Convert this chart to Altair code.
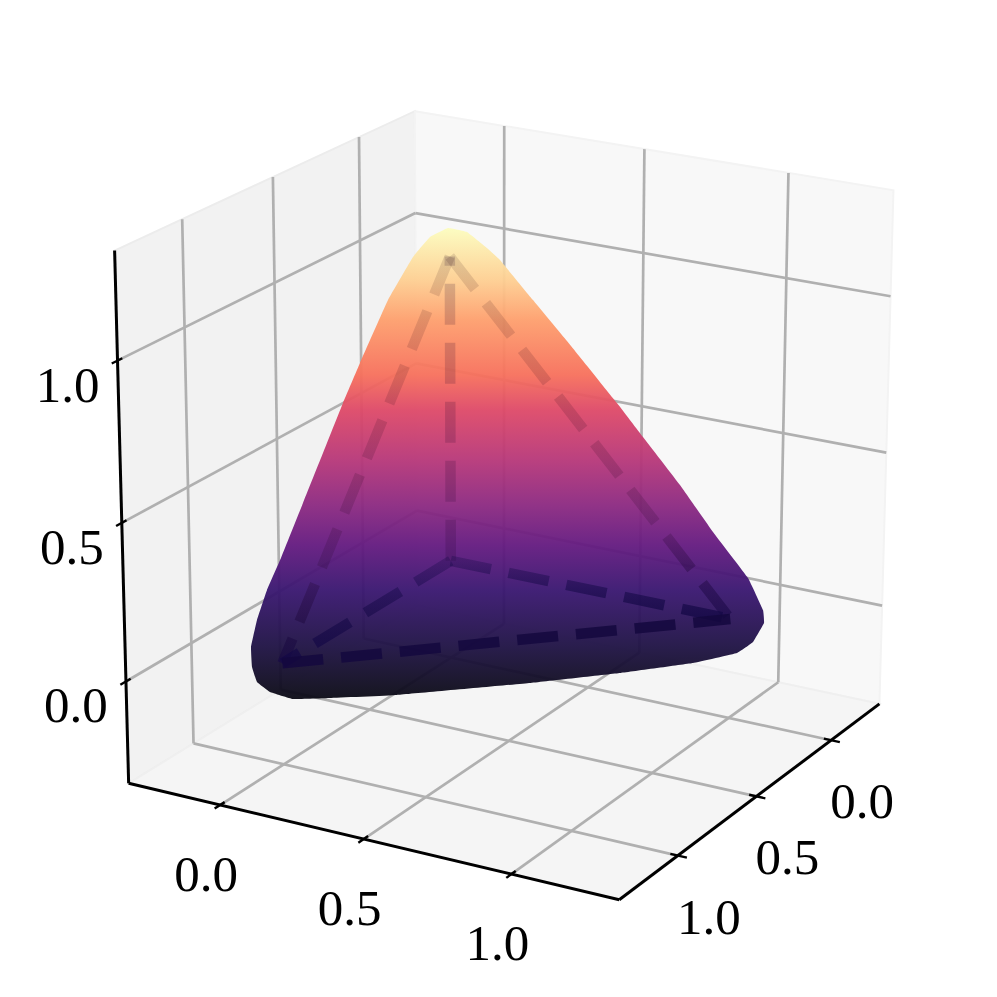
import numpy as np
import pandas as pd
import altair as alt

# limits of the 3D box
XL, XH = -0.326, 1.356
YL, YH = -0.338, 1.356
ZL, ZH = -0.327, 1.333
TICKS = [0.0, 0.5, 1.0]
TICK_LABELS = ["0.0", "0.5", "1.0"]

# camera that takes the 3D box to the picture plane
P = np.array([[0.260238, -0.182424, -0.0104189, 0.450784],
              [0.0418618, 0.0696163, -0.309616, 0.560799],
              [-0.0263944, -0.049572, -0.0209933, 1.0]])

# outline of the rounded tetrahedron as seen in the picture plane
surf_u = [448,467,487,500,533,567,617,643,680,713,748,763,764,753,737,693,620,530,397,330,293,270,257,252,251,257,267,281,303,323,343,360,388,413,430]
surf_v = [228,232,248,260,300,341,403,437,485,532,578,610,623,642,653,663,673,683,695,698,699,692,682,667,647,620,590,558,503,453,403,363,300,257,237]
# colour of the surface by height in the picture plane (magma)
stop_v = [228,280,320,375,410,460,505,545,590,645,699]
stop_c = ["#fcfdbf","#fecf92","#fe9f6d","#f7705c","#de4968","#b73779","#8c2981","#641a80","#391670","#1f1245","#0a0a14"]

def proj(X, Y, Z):
    h = P @ np.array([X, Y, Z, 1.0])
    return 1000*h[0]/h[2], 1000*h[1]/h[2]

W = 975
xs = alt.X("u:Q", scale=alt.Scale(domain=[8, 8+W], nice=False, zero=False), axis=None)
ys = alt.Y("v:Q", scale=alt.Scale(domain=[8+W, 8], nice=False, zero=False), axis=None)
order = alt.Order("i:Q")

def path_df(pts3):
    rows = []
    for i, p in enumerate(pts3):
        u, v = proj(*p)
        rows.append(dict(u=u, v=v, i=i))
    return pd.DataFrame(rows)

def poly(pts3, fill, stroke):
    return alt.Chart(path_df(pts3)).mark_line(fill=fill, stroke=stroke, strokeWidth=2, interpolate="linear-closed").encode(x=xs, y=ys, order=order)

def segs(seglist, color, width, **kw):
    rows = []
    for k, (a, b) in enumerate(seglist):
        for i, p in enumerate((a, b)):
            u, v = proj(*p)
            rows.append(dict(u=u, v=v, i=i, k=k))
    return alt.Chart(pd.DataFrame(rows)).mark_line(color=color, strokeWidth=width, **kw).encode(x=xs, y=ys, order=order, detail="k:N")

panes = [
    poly([(XL,YH,ZL),(XL,YL,ZL),(XL,YL,ZH),(XL,YH,ZH)], "#f2f2f2", "#ececec"),
    poly([(XL,YL,ZL),(XH,YL,ZL),(XH,YL,ZH),(XL,YL,ZH)], "#f8f8f8", "#f3f3f3"),
    poly([(XL,YL,ZL),(XH,YL,ZL),(XH,YH,ZL),(XL,YH,ZL)], "#f5f5f5", "#efefef"),
]
grid = []
for t in TICKS:
    grid += [((XL,t,ZL),(XL,t,ZH)), ((XL,YL,t),(XL,YH,t)),
             ((t,YL,ZL),(t,YL,ZH)), ((XL,YL,t),(XH,YL,t)),
             ((t,YL,ZL),(t,YH,ZL)), ((XL,t,ZL),(XH,t,ZL))]
grid_l = segs(grid, "#b0b0b0", 2.7)

grad = alt.LinearGradient(gradient="linear", x1=0, x2=0, y1=0, y2=1,
    stops=[alt.GradientStop(color=c, offset=(v-min(stop_v))/(max(stop_v)-min(stop_v))) for v, c in zip(stop_v, stop_c)])
surf = alt.Chart(pd.DataFrame(dict(u=surf_u, v=surf_v, i=range(len(surf_u))))).mark_line(
    fill=grad, strokeOpacity=0, strokeWidth=0, fillOpacity=0.95, interpolate="cardinal-closed", tension=0.8).encode(x=xs, y=ys, order=order)

O = (0,0,0); VX = (1,0,0); VY = (0,1,0); VZ = (0,0,1)
def grad_edge(stops):
    return alt.LinearGradient(gradient="linear", x1=0, x2=0, y1=0, y2=1, stops=[alt.GradientStop(color=c, offset=o) for o, c in stops])
def edge(a, b, stroke):
    return alt.Chart(path_df([a, b])).mark_line(stroke=stroke, strokeWidth=10.5, strokeDash=[41,18], strokeCap="butt").encode(x=xs, y=ys, order=order)
upper_st = [(0,"rgba(40,0,10,0.12)"), (0.75,"rgba(30,0,30,0.17)"), (1,"rgba(20,5,70,0.55)")]
low_st = [(0,"rgba(20,8,70,0.3)"), (1,"rgba(20,8,70,0.8)")]
edges = [edge(VZ,VY,grad_edge(upper_st)), edge(VZ,VX,grad_edge(upper_st)), edge(O,VZ,"rgba(30,0,40,0.17)"),
         edge(O,VX,grad_edge(low_st)), edge(O,VY,grad_edge(low_st)), edge(VY,VX,"rgba(20,8,62,0.85)")]

axes = segs([((XL,YH,ZL),(XL,YH,ZH)), ((XL,YH,ZL),(XH,YH,ZL)), ((XH,YH,ZL),(XH,YL,ZL))], "black", 3)
tks = []
for t in TICKS:
    tks += [((t,YH-0.025,ZL),(t,YH+0.03,ZL)), ((XH-0.025,t,ZL),(XH+0.03,t,ZL)), ((XL,YH-0.025,t),(XL,YH+0.03,t))]
tk_l = segs(tks, "black", 2.4)

def labels(pts, dx, dy):
    rows = []
    for p, s in zip(pts, TICK_LABELS):
        u, v = proj(*p)
        rows.append(dict(u=u, v=v, s=s))
    return alt.Chart(pd.DataFrame(rows)).mark_text(font="Liberation Serif", fontSize=51, dx=dx, dy=dy, color="black", baseline="middle", align="center").encode(x=xs, y=ys, text="s:N")
lab = [labels([(t,YH,ZL) for t in TICKS], -14, 71), labels([(XH,t,ZL) for t in TICKS], 31, 63), labels([(XL,YH,t) for t in TICKS], -50, 26)]

chart = alt.layer(*panes, grid_l, surf, *edges, axes, tk_l, *lab).properties(width=W, height=W, padding=0, autosize="none").configure_view(stroke=None)
chart.save("out.html", embed_options={"renderer": "svg", "actions": False})
